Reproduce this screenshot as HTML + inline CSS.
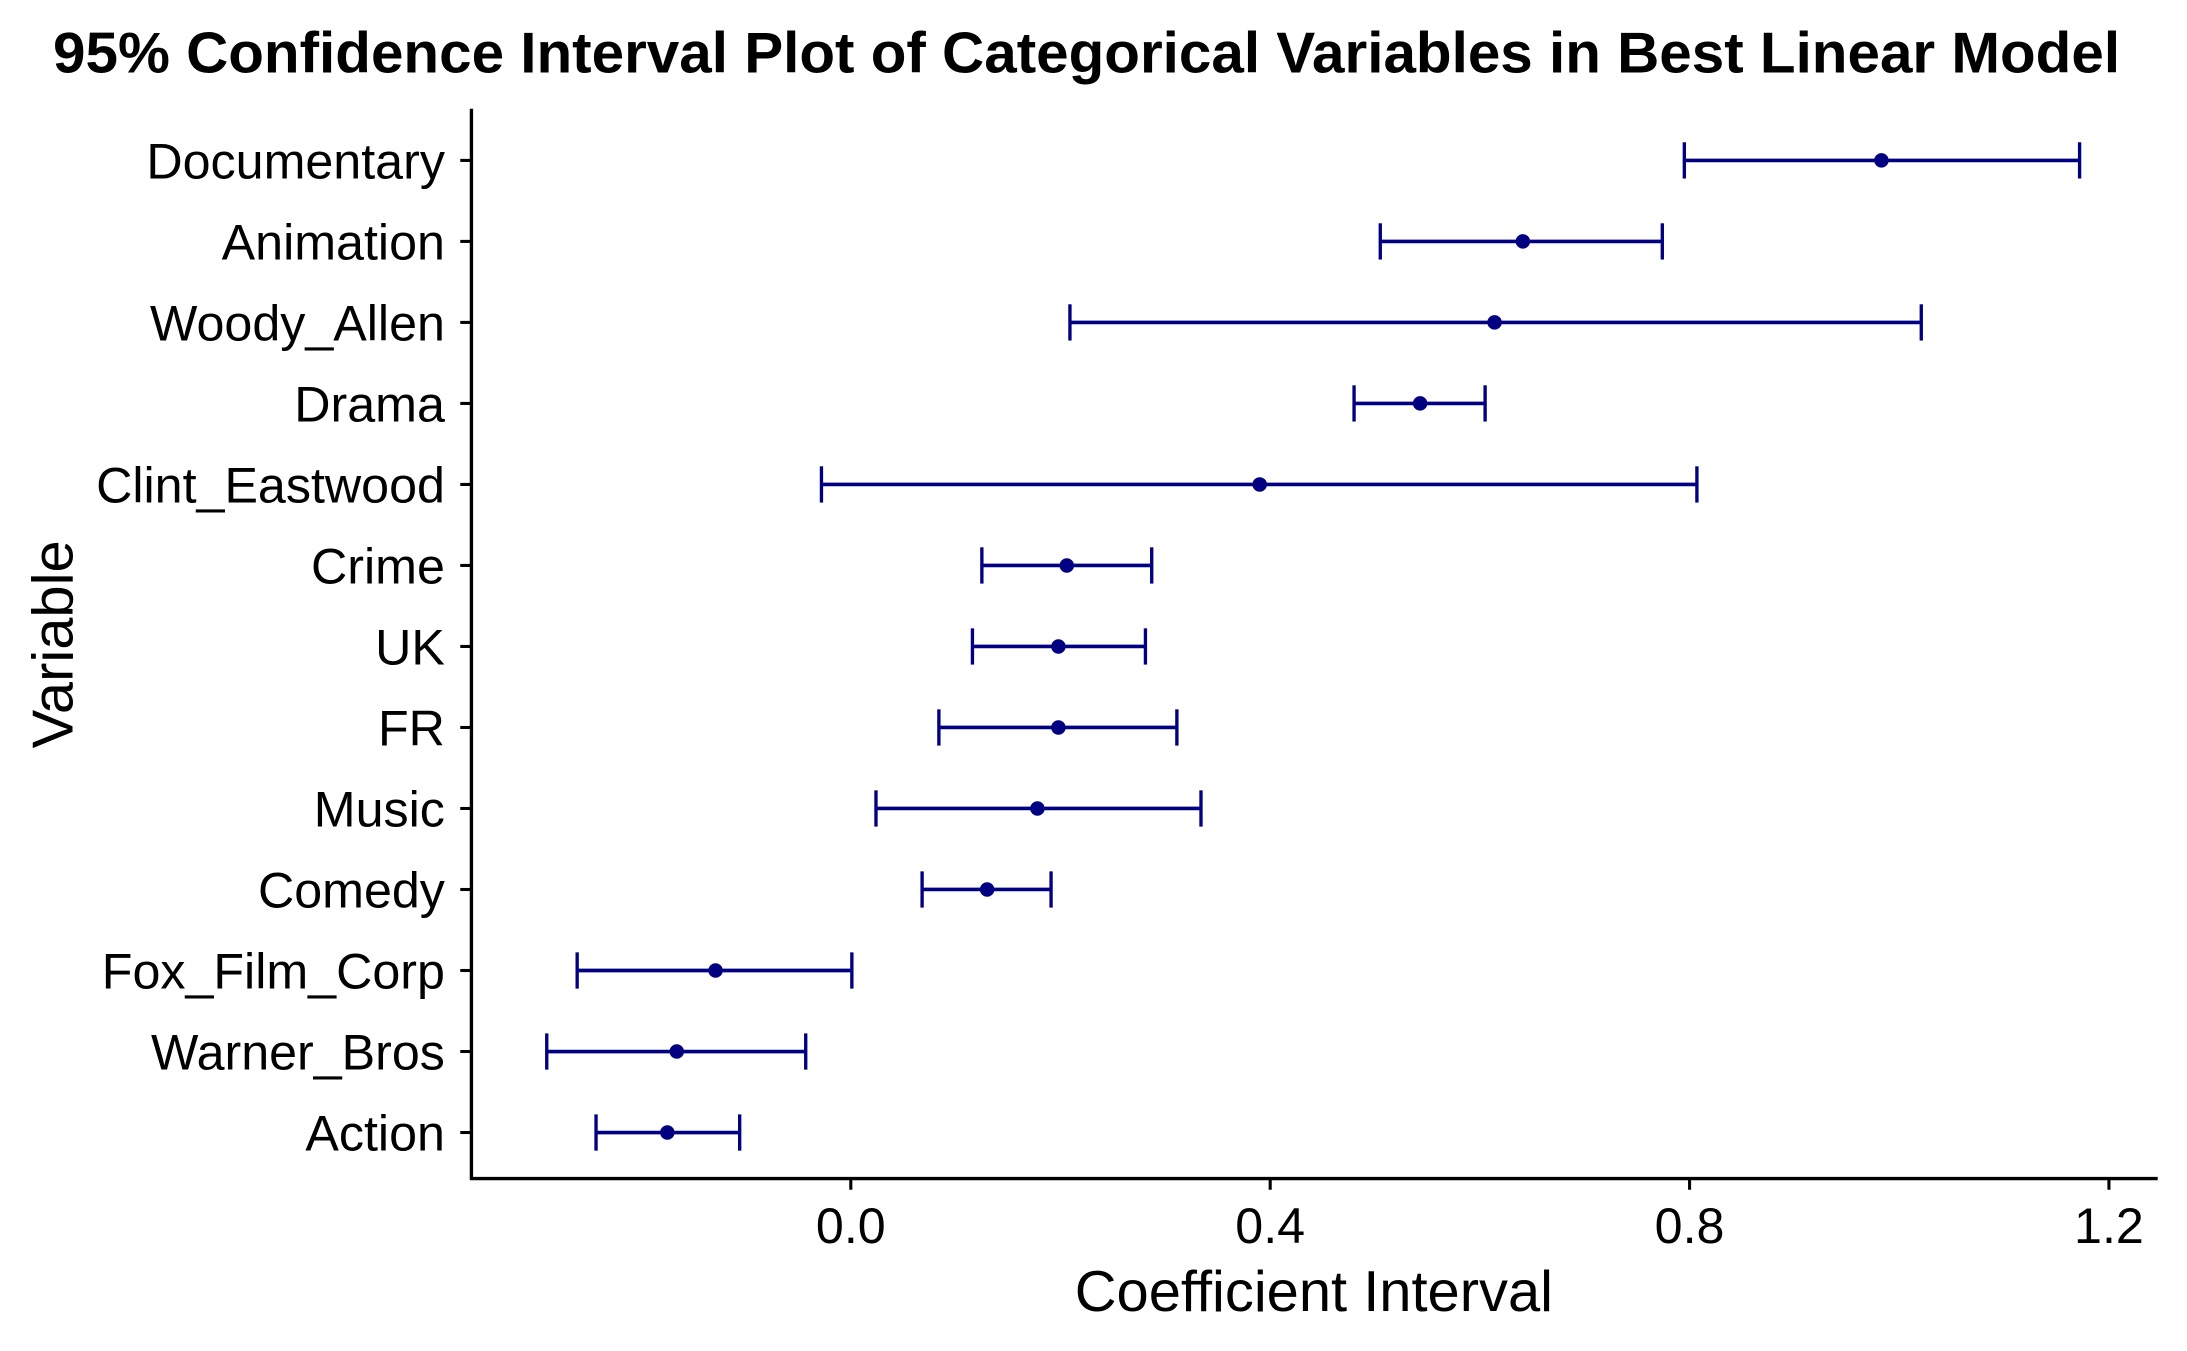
<!DOCTYPE html>
<html><head><meta charset="utf-8"><style>
html,body{margin:0;padding:0;background:#fff;}
svg{display:block;font-family:"Liberation Sans",Arial,sans-serif;}
</style></head><body>
<svg id="chart" width="2187" height="1351" viewBox="0 0 1568 968.6" preserveAspectRatio="none" xmlns="http://www.w3.org/2000/svg">
<rect width="1568" height="968.6" fill="#fff"/>
<text x="779" y="52" text-anchor="middle" font-size="41.5" font-weight="bold" textLength="1482" lengthAdjust="spacingAndGlyphs">95% Confidence Interval Plot of Categorical Variables in Best Linear Model</text>
<g id="axes"></g>
<g id="marks"></g>
<text x="942" y="940" text-anchor="middle" font-size="41.5">Coefficient Interval</text>
<text transform="translate(52,462) rotate(-90)" text-anchor="middle" font-size="41.5">Variable</text>
</svg>
<script>
const categories = ["Documentary","Animation","Woody_Allen","Drama","Clint_Eastwood","Crime","UK","FR","Music","Comedy","Fox_Film_Corp","Warner_Bros","Action"];
const estimates = [0.983,0.641,0.614,0.543,0.390,0.206,0.198,0.198,0.178,0.130,-0.129,-0.166,-0.175];
const lowers = [0.795,0.505,0.209,0.480,-0.028,0.125,0.116,0.084,0.024,0.068,-0.261,-0.290,-0.243];
const uppers = [1.172,0.774,1.021,0.605,0.807,0.287,0.281,0.311,0.334,0.191,0.001,-0.043,-0.106];
const xTicks = [0.0,0.4,0.8,1.2];
const xTickLabels = ["0.0","0.4","0.8","1.2"];

const NS="http://www.w3.org/2000/svg";
const xs = v => 610 + v*751.7;
const ys = i => 115 + i*58.08;
function mk(tag, attrs, parent){const e=document.createElementNS(NS,tag);for(const k in attrs)e.setAttribute(k,attrs[k]);parent.appendChild(e);return e;}
const axes=document.getElementById('axes'), marks=document.getElementById('marks');
let e;
e=mk('line',{x1:338,y1:78,x2:338,y2:846,stroke:'#000','stroke-width':2.4},axes);


e=mk('line',{x1:337,y1:845,x2:1547,y2:845,stroke:'#000','stroke-width':2.4},axes);


xTicks.forEach((t,i)=>{
  const x=xs(t);
  e=mk('line',{x1:x,y1:845,x2:x,y2:853,stroke:'#000','stroke-width':2.2},axes);
  
  
  e=mk('text',{x:x,y:891,'text-anchor':'middle','font-size':36,fill:'#000'},axes);
  e.textContent=xTickLabels[i];
  
  
});
categories.forEach((c,i)=>{
  const y=ys(i);
  e=mk('line',{x1:330,y1:y,x2:338,y2:y,stroke:'#000','stroke-width':2.2},axes);
  
  
  e=mk('text',{x:319,y:y+13,'text-anchor':'end','font-size':36,fill:'#000'},axes);
  e.textContent=c;
  
  
  const g=mk('g',{},marks);
  
  
  const x1=xs(lowers[i]), x2=xs(uppers[i]);
  mk('line',{x1:x1,y1:y,x2:x2,y2:y,stroke:'#000080','stroke-width':2.6},g);
  mk('line',{x1:x1,y1:y-13,x2:x1,y2:y+13,stroke:'#000080','stroke-width':2.4},g);
  mk('line',{x1:x2,y1:y-13,x2:x2,y2:y+13,stroke:'#000080','stroke-width':2.4},g);
  e=mk('circle',{cx:xs(estimates[i]),cy:y,r:5.2,fill:'#000080'},marks);
  
  
});
</script>
</body></html>
